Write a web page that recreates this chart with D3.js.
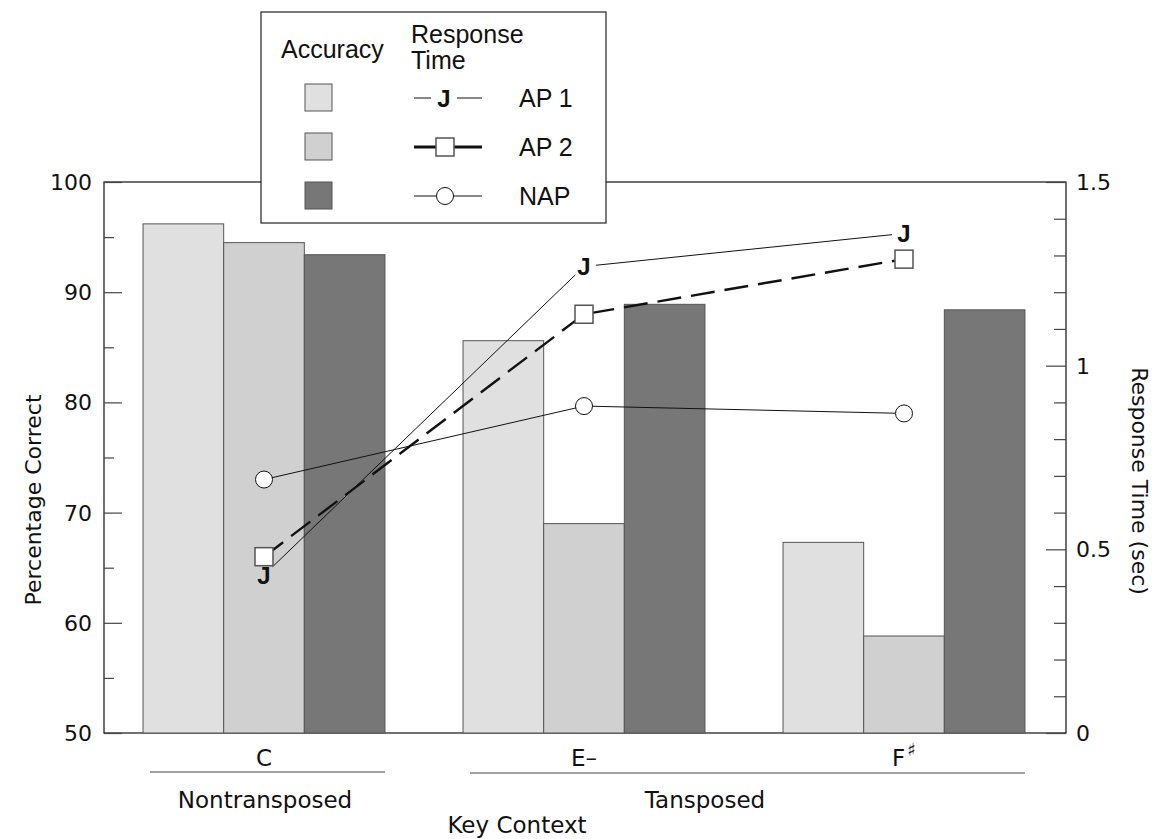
<!DOCTYPE html>
<html>
<head>
<meta charset="utf-8">
<script src="https://cdn.jsdelivr.net/npm/d3@7"></script>
<style>
  body { margin: 0; background: #fff; }
  svg { display: block; }
  .lab { font-family: "DejaVu Sans", sans-serif; font-size: 22px; fill: #111; }
  .leg { font-family: "Liberation Sans", Arial, sans-serif; font-size: 25px; fill: #111; }
  .cat { font-family: "DejaVu Sans", sans-serif; font-size: 23px; fill: #111; }
</style>
</head>
<body>
<svg id="chart" width="1155" height="839"></svg>
<script>
// key contexts (x groups)
var keyNames = ["C", "E–", "F"];
var keySup = ["", "", "♯"];
var series = ["AP 1", "AP 2", "NAP"];

// accuracy, percentage correct
var accAP1 = [96.2, 85.6, 67.3];
var accAP2 = [94.5, 69.0, 58.8];
var accNAP = [93.4, 88.9, 88.4];

// response time, sec
var rtAP1 = [0.43, 1.27, 1.36];
var rtAP2 = [0.48, 1.14, 1.29];
var rtNAP = [0.69, 0.89, 0.87];

var leftTicks = [50, 60, 70, 80, 90, 100];
var rightTicks = [0, 0.5, 1, 1.5];

var barColors = ["#e0e0e0", "#d0d0d0", "#777777"];

var svg = d3.select('#chart');
var L = 104, R = 1066, T = 182, B = 733;

var yL = d3.scaleLinear().domain([50, 100]).range([B, T]);
var yR = d3.scaleLinear().domain([0, 1.5]).range([B, T]);
var x0 = d3.scaleBand().domain(keyNames).range([104, 1064]).paddingInner(0.244).paddingOuter(0.122);
var x1 = d3.scaleBand().domain(series).range([0, x0.bandwidth()]);
var cx = function (i) { return x0(keyNames[i]) + x0.bandwidth() / 2; };

var acc = [accAP1, accAP2, accNAP];

// frame
svg.append('rect').attr('x', L).attr('y', T).attr('width', R - L).attr('height', B - T)
  .attr('fill', 'none').attr('stroke', '#111').attr('stroke-width', 1.2);

// bars
keyNames.forEach(function (k, i) {
  series.forEach(function (s, j) {
    var v = acc[j][i];
    svg.append('rect')
      .attr('x', x0(k) + x1(s)).attr('y', yL(v))
      .attr('width', x1.bandwidth()).attr('height', B - yL(v))
      .attr('fill', barColors[j]).attr('stroke', '#555').attr('stroke-width', 1);
  });
});

// left axis (ticks point inward)
var lAxis = svg.append('g').attr('transform', 'translate(' + L + ',0)')
  .call(d3.axisRight(yL).tickValues(d3.range(50, 101, 5)).tickSize(0).tickFormat(''));
lAxis.select('.domain').remove();
lAxis.selectAll('.tick line').attr('x2', function (d) { return d % 10 === 0 ? 18 : 10; })
  .attr('stroke', '#444').attr('stroke-width', 1.2);
leftTicks.forEach(function (t) {
  svg.append('text').attr('class', 'lab').attr('x', 92).attr('y', yL(t) + 8)
    .attr('text-anchor', 'end').text(t);
});

// right axis
var rAxis = svg.append('g').attr('transform', 'translate(' + R + ',0)')
  .call(d3.axisLeft(yR).tickValues(d3.range(0, 16).map(function (d) { return d / 10; })).tickSize(0).tickFormat(''));
rAxis.select('.domain').remove();
rAxis.selectAll('.tick line').attr('x2', function (d) { return Math.round(d * 10) % 5 === 0 ? -20 : -12; })
  .attr('stroke', '#444').attr('stroke-width', 1.2);
rightTicks.forEach(function (t) {
  svg.append('text').attr('class', 'lab').attr('x', 1076).attr('y', yR(t) + 8).text(t);
});

// axis titles
svg.append('text').attr('class', 'lab').attr('font-size', 23)
  .attr('transform', 'translate(41,500) rotate(-90)').attr('text-anchor', 'middle')
  .text('Percentage Correct');
svg.append('text').attr('class', 'lab').attr('font-size', 24)
  .attr('transform', 'translate(1132,481) rotate(90)').attr('text-anchor', 'middle')
  .text('Response Time (sec)');

// x category labels
keyNames.forEach(function (k, i) {
  var t = svg.append('text').attr('class', 'cat').attr('x', cx(i)).attr('y', 766)
    .attr('text-anchor', 'middle').text(k);
  if (keySup[i]) t.append('tspan').attr('dy', -10).attr('font-size', 18).attr('dx', 2).text(keySup[i]);
});
svg.append('line').attr('x1', 150).attr('x2', 385).attr('y1', 772).attr('y2', 772).attr('stroke', '#444');
svg.append('line').attr('x1', 470).attr('x2', 1025).attr('y1', 773).attr('y2', 773).attr('stroke', '#444');
svg.append('text').attr('class', 'cat').attr('x', 265).attr('y', 808).attr('text-anchor', 'middle').text('Nontransposed');
svg.append('text').attr('class', 'cat').attr('x', 705).attr('y', 808).attr('text-anchor', 'middle').text('Tansposed');
svg.append('text').attr('class', 'cat').attr('font-size', 21).attr('x', 517).attr('y', 833).attr('text-anchor', 'middle').text('Key Context');

// response time lines
function pts(arr) { return arr.map(function (v, i) { return [cx(i), yR(v)]; }); }

// NAP
var pNAP = pts(rtNAP);
svg.append('path').attr('d', d3.line()(pNAP)).attr('fill', 'none').attr('stroke', '#111').attr('stroke-width', 1);

// AP2 dashed
var pAP2 = pts(rtAP2);
svg.append('path').attr('d', d3.line()(pAP2)).attr('fill', 'none').attr('stroke', '#111')
  .attr('stroke-width', 2.4).attr('stroke-dasharray', '24,10');

// AP1 with gaps around J markers
var pAP1 = pts(rtAP1);
for (var i = 0; i < pAP1.length - 1; i++) {
  var a = pAP1[i], b = pAP1[i + 1];
  var dx = b[0] - a[0], dy = b[1] - a[1], len = Math.sqrt(dx * dx + dy * dy), g = 12;
  svg.append('line')
    .attr('x1', a[0] + dx / len * g).attr('y1', a[1] + dy / len * g)
    .attr('x2', b[0] - dx / len * g).attr('y2', b[1] - dy / len * g)
    .attr('stroke', '#111').attr('stroke-width', 1);
}

function jMark(sel, x, y) {
  sel.append('text').attr('x', x).attr('y', y + 9).attr('text-anchor', 'middle')
    .attr('font-family', '"Liberation Sans", Arial, sans-serif').attr('font-weight', 'bold')
    .attr('font-size', 24).attr('fill', '#111').text('J');
}
function sqMark(sel, x, y) {
  sel.append('rect').attr('x', x - 9).attr('y', y - 9).attr('width', 18).attr('height', 18)
    .attr('fill', '#fff').attr('stroke', '#555').attr('stroke-width', 1.5);
}
function ciMark(sel, x, y) {
  sel.append('circle').attr('cx', x).attr('cy', y).attr('r', 8.5)
    .attr('fill', '#fff').attr('stroke', '#111').attr('stroke-width', 1);
}

pNAP.forEach(function (p) { ciMark(svg, p[0], p[1]); });
pAP1.forEach(function (p) { jMark(svg, p[0], p[1]); });
pAP2.forEach(function (p) { sqMark(svg, p[0], p[1]); });

// legend
var lg = svg.append('g');
lg.append('rect').attr('x', 261).attr('y', 12).attr('width', 345).attr('height', 211)
  .attr('fill', '#fff').attr('stroke', '#222').attr('stroke-width', 1.2);
lg.append('text').attr('class', 'leg').attr('x', 281).attr('y', 58).text('Accuracy');
lg.append('text').attr('class', 'leg').attr('x', 411).attr('y', 43).text('Response');
lg.append('text').attr('class', 'leg').attr('x', 411).attr('y', 69).text('Time');
var rowY = [98, 147, 196];
series.forEach(function (s, j) {
  var y = rowY[j];
  lg.append('rect').attr('x', 305).attr('y', y - 14).attr('width', 27).attr('height', 27)
    .attr('fill', barColors[j]).attr('stroke', '#555').attr('stroke-width', 1);
  lg.append('text').attr('class', 'leg').attr('x', 519).attr('y', y + 9).text(s);
});
// AP1 sample
lg.append('line').attr('x1', 414).attr('x2', 431).attr('y1', rowY[0]).attr('y2', rowY[0]).attr('stroke', '#111');
lg.append('line').attr('x1', 457).attr('x2', 482).attr('y1', rowY[0]).attr('y2', rowY[0]).attr('stroke', '#111');
jMark(lg, 444, rowY[0]);
// AP2 sample
lg.append('line').attr('x1', 414).attr('x2', 482).attr('y1', rowY[1]).attr('y2', rowY[1]).attr('stroke', '#111').attr('stroke-width', 3);
sqMark(lg, 445, rowY[1]);
// NAP sample
lg.append('line').attr('x1', 414).attr('x2', 482).attr('y1', rowY[2]).attr('y2', rowY[2]).attr('stroke', '#111');
ciMark(lg, 445, rowY[2]);
</script>
</body>
</html>
